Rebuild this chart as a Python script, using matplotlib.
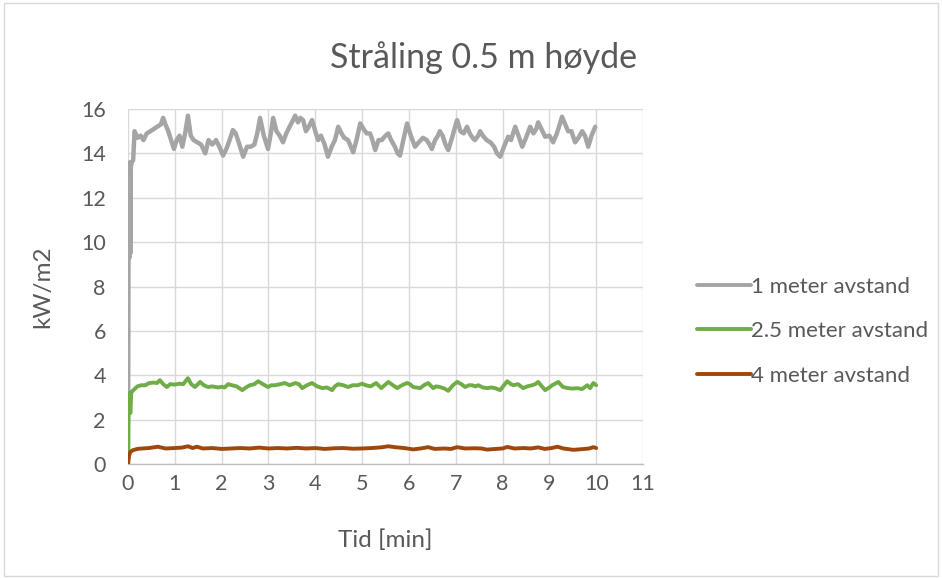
import matplotlib
matplotlib.use("Agg")
import matplotlib.pyplot as plt
from matplotlib.patches import Rectangle

plt.rcParams['font.family'] = ['Lato', 'DejaVu Sans']

TITLE = "Stråling 0.5 m høyde"
X_LABEL = "Tid [min]"
Y_LABEL = "kW/m2"
SERIES_NAMES = ["1 meter avstand", "2.5 meter avstand", "4 meter avstand"]
X_TICKS = list(range(0, 12))
Y_TICKS = list(range(0, 17, 2))

# (time [min], radiation [kW/m2]) readings
gray_points = [
    (0.00, 0.0), (0.01, 9.2), (0.02, 13.5), (0.03, 9.3), (0.04, 13.6), (0.05, 9.5),
    (0.06, 13.4), (0.08, 13.6), (0.11, 13.7), (0.14, 15.0), (0.20, 14.7), (0.27, 14.8),
    (0.33, 14.6), (0.40, 14.9), (0.48, 15.0), (0.55, 15.1), (0.62, 15.2), (0.70, 15.3),
    (0.75, 15.6), (0.80, 15.3), (0.86, 15.0), (0.92, 14.6), (0.98, 14.2), (1.04, 14.6),
    (1.10, 14.8), (1.16, 14.3), (1.22, 14.9), (1.28, 15.7), (1.34, 14.8), (1.40, 14.6),
    (1.48, 14.5), (1.56, 14.4), (1.65, 14.0), (1.72, 14.6), (1.80, 14.4), (1.88, 14.6),
    (1.95, 14.3), (2.03, 13.9), (2.10, 14.2), (2.17, 14.6), (2.24, 15.05), (2.30, 14.9),
    (2.38, 14.4), (2.46, 13.85), (2.54, 14.3), (2.62, 14.3), (2.70, 14.4), (2.76, 14.9),
    (2.82, 15.6), (2.90, 14.8), (2.99, 14.2), (3.05, 14.9), (3.10, 15.6), (3.17, 15.0),
    (3.24, 14.8), (3.31, 14.5), (3.38, 14.9), (3.45, 15.2), (3.50, 15.4), (3.57, 15.7),
    (3.63, 15.4), (3.68, 15.6), (3.74, 15.5), (3.80, 15.0), (3.86, 15.2), (3.93, 15.5),
    (4.00, 15.0), (4.06, 14.6), (4.12, 14.8), (4.20, 14.4), (4.27, 13.85), (4.35, 14.3),
    (4.42, 14.6), (4.49, 15.2), (4.56, 14.9), (4.62, 14.7), (4.70, 14.6), (4.76, 14.3),
    (4.81, 14.05), (4.88, 14.6), (4.96, 15.35), (5.03, 15.1), (5.10, 14.9), (5.17, 14.9),
    (5.22, 14.6), (5.28, 14.15), (5.35, 14.6), (5.42, 14.6), (5.50, 14.8), (5.56, 14.9),
    (5.62, 14.6), (5.70, 14.3), (5.76, 14.0), (5.81, 13.9), (5.88, 14.6), (5.96, 15.35),
    (6.04, 14.8), (6.13, 14.3), (6.21, 14.5), (6.30, 14.7), (6.38, 14.6), (6.44, 14.4),
    (6.49, 14.2), (6.56, 14.6), (6.62, 14.8), (6.66, 15.0), (6.72, 14.8), (6.78, 14.4),
    (6.84, 14.15), (6.92, 14.7), (7.00, 15.3), (7.03, 15.5), (7.10, 15.0), (7.17, 14.9),
    (7.24, 15.2), (7.30, 14.9), (7.36, 14.7), (7.41, 14.6), (7.48, 14.8), (7.52, 15.0),
    (7.58, 14.8), (7.66, 14.6), (7.74, 14.5), (7.82, 14.3), (7.88, 14.0), (7.95, 13.85),
    (8.03, 14.3), (8.12, 14.75), (8.18, 14.6), (8.27, 15.2), (8.34, 14.8), (8.42, 14.3),
    (8.50, 14.7), (8.59, 15.2), (8.66, 14.9), (8.72, 15.1), (8.76, 15.4), (8.83, 15.1),
    (8.91, 14.75), (9.00, 14.8), (9.08, 14.5), (9.16, 14.9), (9.22, 15.3), (9.27, 15.65),
    (9.34, 15.3), (9.40, 15.0), (9.47, 15.0), (9.55, 14.5), (9.62, 14.7), (9.70, 15.0),
    (9.76, 14.8), (9.83, 14.3), (9.90, 14.8), (9.98, 15.2),
]

green_points = [
    (0.00, 0.0), (0.01, 2.3), (0.03, 3.2), (0.05, 2.3), (0.07, 3.25), (0.10, 3.3),
    (0.15, 3.4), (0.20, 3.5), (0.28, 3.55), (0.37, 3.55), (0.45, 3.65), (0.55, 3.67),
    (0.62, 3.65), (0.68, 3.78), (0.75, 3.6), (0.83, 3.47), (0.90, 3.6), (1.00, 3.58),
    (1.10, 3.62), (1.18, 3.6), (1.28, 3.87), (1.35, 3.6), (1.43, 3.47), (1.54, 3.7),
    (1.62, 3.55), (1.71, 3.47), (1.80, 3.5), (1.92, 3.45), (2.00, 3.48), (2.06, 3.45),
    (2.14, 3.6), (2.22, 3.55), (2.32, 3.5), (2.44, 3.33), (2.52, 3.45), (2.60, 3.55),
    (2.70, 3.6), (2.78, 3.73), (2.88, 3.6), (2.99, 3.47), (3.06, 3.55), (3.14, 3.55),
    (3.25, 3.6), (3.35, 3.65), (3.45, 3.55), (3.57, 3.65), (3.65, 3.6), (3.72, 3.42),
    (3.82, 3.55), (3.93, 3.65), (4.04, 3.5), (4.15, 3.42), (4.25, 3.45), (4.36, 3.33),
    (4.42, 3.5), (4.49, 3.6), (4.60, 3.55), (4.70, 3.47), (4.80, 3.55), (4.91, 3.55),
    (5.00, 3.62), (5.08, 3.55), (5.18, 3.5), (5.30, 3.65), (5.41, 3.42), (5.48, 3.55),
    (5.56, 3.7), (5.66, 3.55), (5.75, 3.42), (5.85, 3.55), (5.96, 3.65), (6.02, 3.6),
    (6.09, 3.47), (6.24, 3.42), (6.32, 3.55), (6.41, 3.65), (6.52, 3.42), (6.58, 3.5),
    (6.66, 3.47), (6.76, 3.4), (6.84, 3.3), (6.94, 3.55), (7.03, 3.7), (7.12, 3.6),
    (7.20, 3.47), (7.28, 3.55), (7.35, 3.55), (7.42, 3.5), (7.48, 3.55), (7.58, 3.45),
    (7.67, 3.42), (7.76, 3.45), (7.84, 3.42), (7.95, 3.33), (8.03, 3.55), (8.10, 3.73),
    (8.18, 3.6), (8.23, 3.55), (8.33, 3.6), (8.44, 3.42), (8.53, 3.5), (8.63, 3.55),
    (8.70, 3.6), (8.76, 3.7), (8.84, 3.5), (8.91, 3.33), (9.00, 3.45), (9.06, 3.55),
    (9.12, 3.62), (9.19, 3.7), (9.29, 3.47), (9.40, 3.42), (9.50, 3.4), (9.59, 3.42),
    (9.70, 3.38), (9.81, 3.55), (9.87, 3.42), (9.94, 3.65), (10.00, 3.55),
]

brown_points = [
    (0.00, 0.0), (0.02, 0.35), (0.05, 0.55), (0.10, 0.62), (0.20, 0.68), (0.30, 0.70),
    (0.45, 0.72), (0.64, 0.78), (0.80, 0.70), (1.00, 0.72), (1.15, 0.74), (1.28, 0.80),
    (1.38, 0.72), (1.47, 0.78), (1.60, 0.70), (1.80, 0.72), (2.00, 0.68), (2.20, 0.70),
    (2.40, 0.72), (2.60, 0.70), (2.80, 0.74), (3.00, 0.70), (3.20, 0.72), (3.40, 0.70),
    (3.60, 0.73), (3.80, 0.70), (4.00, 0.72), (4.20, 0.68), (4.40, 0.71), (4.60, 0.72),
    (4.80, 0.69), (5.00, 0.70), (5.20, 0.72), (5.40, 0.75), (5.56, 0.80), (5.70, 0.76),
    (5.90, 0.72), (6.09, 0.66), (6.25, 0.70), (6.41, 0.76), (6.55, 0.68), (6.75, 0.70),
    (6.90, 0.68), (7.03, 0.76), (7.20, 0.70), (7.40, 0.71), (7.55, 0.70), (7.67, 0.65),
    (7.85, 0.68), (8.00, 0.70), (8.10, 0.77), (8.25, 0.70), (8.45, 0.72), (8.60, 0.70),
    (8.76, 0.75), (8.90, 0.68), (9.05, 0.72), (9.17, 0.78), (9.30, 0.70), (9.51, 0.64),
    (9.70, 0.67), (9.85, 0.70), (9.94, 0.76), (10.00, 0.72),
]

COLORS = ["#A5A5A5", "#70AD47", "#9E480E"]
TEXT_COLOR = "#595959"
GRID_COLOR = "#D9D9D9"

fig = plt.figure(figsize=(9.42, 5.78), dpi=100)
fig.patch.set_facecolor("white")
fig.patches.append(Rectangle((0.004, 0.004), 0.992, 0.99, transform=fig.transFigure,
                             fill=False, edgecolor=GRID_COLOR, linewidth=1.0))

ax = fig.add_axes([0.1359, 0.1972, 0.5467, 0.6142])

handles = []
for pts, name, col, lw in zip([gray_points, green_points, brown_points],
                              SERIES_NAMES, COLORS, [3.2, 2.8, 2.8]):
    t, v = zip(*pts)
    h, = ax.plot(t, v, color=col, linewidth=lw, label=name,
                 solid_joinstyle="round", solid_capstyle="round", zorder=3)
    handles.append(h)

ax.set_xlim(0, 11)
ax.set_ylim(0, 16)
ax.set_xticks(X_TICKS)
ax.set_yticks(Y_TICKS)
ax.grid(True, color=GRID_COLOR, linewidth=1.0, zorder=0)
ax.set_axisbelow(True)
ax.tick_params(length=0, labelsize=15.5, labelcolor=TEXT_COLOR)
ax.tick_params(axis="y", pad=16)
ax.tick_params(axis="x", pad=7)
for side in ["top", "right", "left"]:
    ax.spines[side].set_visible(False)
ax.spines["bottom"].set_color("#BFBFBF")
ax.spines["bottom"].set_linewidth(1.0)

ax.set_xlabel(X_LABEL, fontsize=17.5, color=TEXT_COLOR, labelpad=26)
ax.set_ylabel(Y_LABEL, fontsize=17.5, color=TEXT_COLOR, labelpad=20)
fig.text(0.513, 0.90, TITLE, fontsize=24.5, color=TEXT_COLOR, ha="center", va="center")

leg = fig.legend(handles=handles, loc="center left", bbox_to_anchor=(0.7187, 0.427),
                 frameon=False, fontsize=16, handlelength=2.45, handletextpad=0.0,
                 labelspacing=1.1, labelcolor=TEXT_COLOR)
for line in leg.get_lines():
    line.set_linewidth(2.8)

fig.savefig("out.png", dpi=100)
